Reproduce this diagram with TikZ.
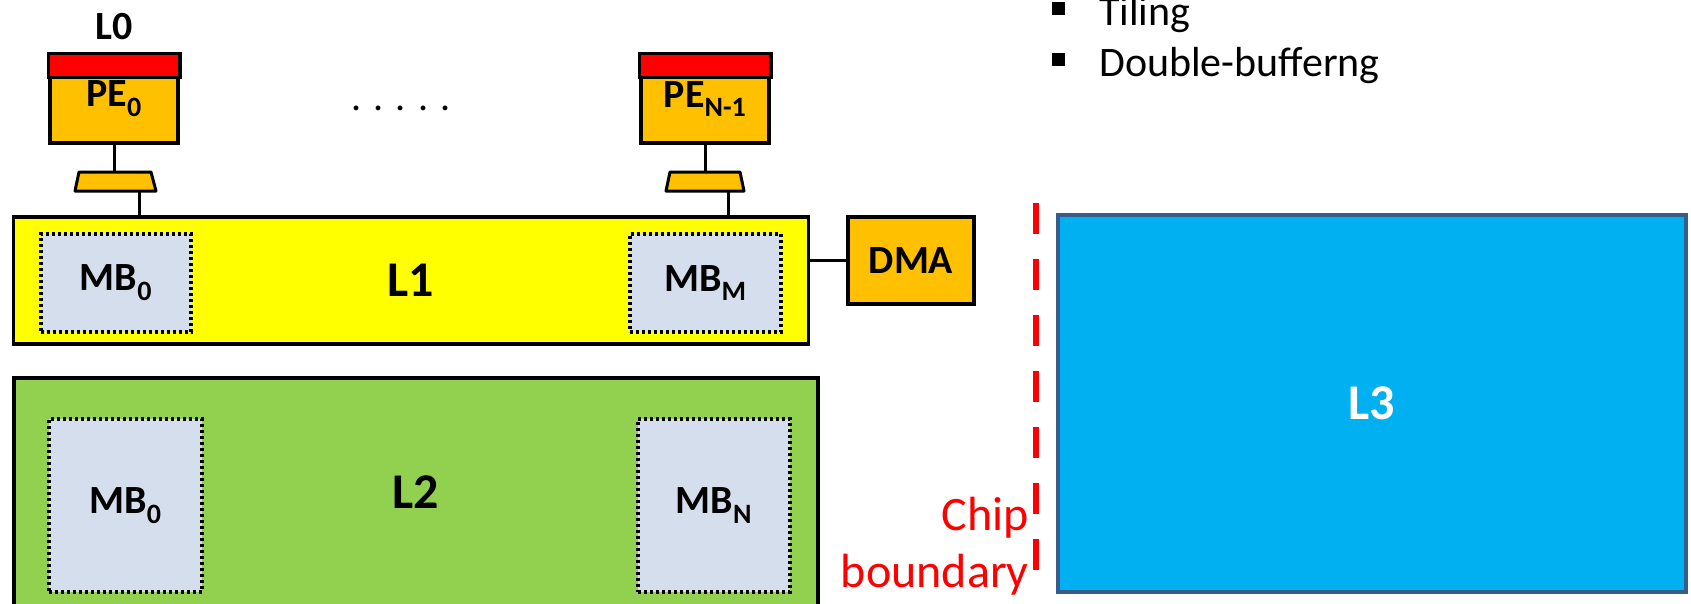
\documentclass[tikz,border=0pt]{standalone}
\usepackage{fontspec}
\setmainfont{Carlito}
\definecolor{peorange}{RGB}{255,192,0}
\definecolor{bandred}{RGB}{255,0,0}
\definecolor{lyellow}{RGB}{255,255,0}
\definecolor{lgreen}{RGB}{146,208,80}
\definecolor{mbgray}{RGB}{213,222,237}
\definecolor{lblue}{RGB}{0,176,240}
\definecolor{lborder}{RGB}{56,93,138}
\usetikzlibrary{positioning}

\begin{document}
\begin{tikzpicture}[x=1pt, y=-1pt,
    big/.style={font=\fontsize{50}{60}\selectfont\bfseries},
    lbl/.style={font=\fontsize{40}{48}\selectfont\bfseries},
    mem/.style={draw, line width=3.5pt, inner sep=0pt},
    mb/.style={draw, line width=3.5pt, dash pattern=on 3pt off 3pt, fill=mbgray, inner sep=0pt, lbl},
    pebox/.style={mem, fill=peorange, minimum width=128pt, minimum height=88pt, lbl},
    sel/.style={draw, line width=3pt, fill=peorange, line join=round},
    wire/.style={line width=3pt}]

\useasboundingbox (0,0) rectangle (1691,603);

% processing elements
\node[pebox] (pe0) at (114,99) {PE\textsubscript{0}};
\draw[line width=3.5pt, fill=bandred] (pe0.north west) rectangle ([yshift=-24pt]pe0.north east);
\node[pebox] (pen) at (705,99) {PE\textsubscript{N-1}};
\draw[line width=3.5pt, fill=bandred] (pen.north west) rectangle ([yshift=-24pt]pen.north east);
\node[lbl, anchor=base] (l0) at (114,39) {L0};
\node[font=\fontsize{40}{48}\selectfont, anchor=base] (dots) at (401,110) {. . . . .};

% selectors
\draw[sel] (75,191) -- (79,172) -- (151,172) -- (156,191) -- cycle;
\draw[sel] (666,191) -- (670,172) -- (740,172) -- (744,191) -- cycle;
\coordinate (tr0in) at (114,172);
\coordinate (tr0out) at (139,191);
\coordinate (trnin) at (705,172);
\coordinate (trnout) at (728,191);

% memories
\node[mem, fill=lyellow, minimum width=795pt, minimum height=127pt, big] (l1) at (411,280.5) {L1};
\node[mb, minimum width=150pt, minimum height=98pt] (l1mb0) at (116,283) {MB\textsubscript{0}};
\node[mb, minimum width=151pt, minimum height=98pt] (l1mbm) at (705.5,283) {MB\textsubscript{M}};
\node[mem, fill=peorange, minimum width=126pt, minimum height=87pt, lbl] (dma) at (911,260.5) {DMA};

\node[mem, fill=lgreen, minimum width=804pt, minimum height=228pt, big] (l2) at (416,492) {L2};
\node[mb, minimum width=153pt, minimum height=173pt] (l2mb0) at (125.5,505.5) {MB\textsubscript{0}};
\node[mb, minimum width=152pt, minimum height=173pt] (l2mbn) at (714,505.5) {MB\textsubscript{N}};

\node[draw=lborder, line width=4pt, fill=lblue, minimum width=628pt, minimum height=377pt, big, text=white] (l3) at (1372,403.5) {L3};

\draw[wire] (pe0.south) -- (tr0in);
\draw[wire] (tr0out) -- (tr0out |- l1.north);
\draw[wire] (pen.south) -- (trnin);
\draw[wire] (trnout) -- (trnout |- l1.north);
\draw[wire] (dma.west) -- (dma.west -| l1.east);

% chip boundary
\draw[bandred, line width=5.5pt, dash pattern=on 31pt off 25pt] (1036,203) -- (1036,570);
\node[anchor=base east, align=right, inner sep=0pt, text=bandred, font=\fontsize{48}{57}\selectfont] (chip) at (1029,587) {Chip\\boundary};

% notes
\node[anchor=base west, inner sep=0pt, font=\fontsize{42}{51}\selectfont] (tiling) at (1052,25) {\raisebox{10pt}{\rule{13pt}{13pt}}\hspace{34pt}Tiling};
\node[anchor=base west, inner sep=0pt, font=\fontsize{42}{51}\selectfont] (dbuf) at (1052,76) {\raisebox{10pt}{\rule{13pt}{13pt}}\hspace{34pt}Double-bufferng};
\end{tikzpicture}
\end{document}
